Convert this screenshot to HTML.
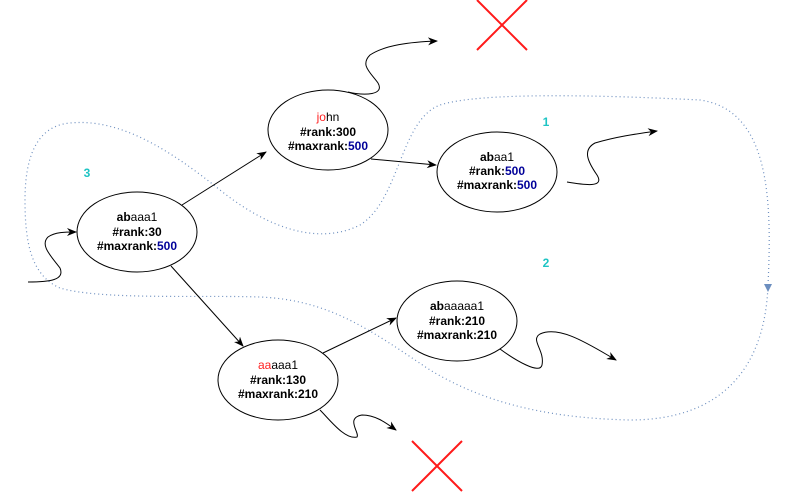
<!DOCTYPE html>
<html><head><meta charset="utf-8"><style>
html,body{margin:0;padding:0;background:#fff;}
svg{display:block;}
text{font-family:"Liberation Sans",Arial,sans-serif;font-size:12px;font-weight:bold;text-anchor:middle;fill:#000;}
.b{fill:#000099}.r{fill:#ff2222}.n{font-weight:normal}
.t{fill:#1ec4c4;font-size:12px}
</style></head><body>
<svg width="789" height="494" viewBox="0 0 789 494">
<defs>
<marker id="a" markerWidth="10" markerHeight="10" refX="9" refY="5" orient="auto" markerUnits="userSpaceOnUse"><path d="M0,1 L10,5 L0,9 L3,5 Z" fill="#000"/></marker>
<marker id="d" markerWidth="10" markerHeight="10" refX="5" refY="9" orient="0" markerUnits="userSpaceOnUse"><path d="M1,1 L9,1 L5,10 Z" fill="#6c8ebf"/></marker>
</defs>
<!-- dotted loop -->
<path d="M768,285 C772,200 770,110 700,100 C600,95 480,92 440,105 C400,120 400,200 360,225 C320,245 270,230 220,190 C170,150 120,118 70,123 C35,126 25,160 25,200 C25,240 30,275 60,288 C100,300 200,295 260,297 C330,300 370,330 430,370 C480,400 540,418 630,420 C720,420 765,370 768,285" fill="none" stroke="#6c8ebf" stroke-width="1.2" stroke-dasharray="1,3"/>
<path d="M764,284 L772,284 L768,292 Z" fill="#6c8ebf"/>
<!-- ellipses -->
<ellipse cx="137" cy="232" rx="60" ry="40" fill="#fff" stroke="#000"/>
<ellipse cx="328" cy="130" rx="60" ry="40" fill="#fff" stroke="#000"/>
<ellipse cx="497" cy="172" rx="60" ry="40" fill="#fff" stroke="#000"/>
<ellipse cx="457" cy="321" rx="60" ry="40" fill="#fff" stroke="#000"/>
<ellipse cx="278" cy="380" rx="60" ry="40" fill="#fff" stroke="#000"/>
<!-- edges -->
<path d="M182,205 L266,152" stroke="#000" fill="none" marker-end="url(#a)"/>
<path d="M371,159 L436,165" stroke="#000" fill="none" marker-end="url(#a)"/>
<path d="M171,266 L243,346" stroke="#000" fill="none" marker-end="url(#a)"/>
<path d="M323,353 L396,318" stroke="#000" fill="none" marker-end="url(#a)"/>
<!-- squiggles -->
<path d="M28,282 C50,282 65,280 60,268 C50,255 40,245 48,237 C55,232 65,232 76,232" stroke="#000" fill="none" marker-end="url(#a)"/>
<path d="M348,92 C365,96 385,95 378,83 C370,72 360,65 370,55 C385,45 410,42 437,41" stroke="#000" fill="none" marker-end="url(#a)"/>
<path d="M567,182 C585,185 605,188 597,175 C588,162 582,150 595,143 C615,137 635,134 657,131" stroke="#000" fill="none" marker-end="url(#a)"/>
<path d="M500,349 C515,360 540,375 542,365 C545,350 530,340 540,334 C560,325 590,345 616,360" stroke="#000" fill="none" marker-end="url(#a)"/>
<path d="M320,410 C330,420 345,440 357,437 C360,433 345,418 362,415 C375,415 385,422 396,430" stroke="#000" fill="none" marker-end="url(#a)"/>
<!-- red X -->
<path d="M477,0 L527,50 M527,0 L477,50" stroke="#ff1a1a" stroke-width="2"/>
<path d="M412,441 L462,491 M462,441 L412,491" stroke="#ff1a1a" stroke-width="2"/>
<!-- labels -->
<text class="t" x="87" y="177">3</text>
<text class="t" x="546" y="126">1</text>
<text class="t" x="546" y="267">2</text>
<text x="137" y="221">ab<tspan class="n">aaa1</tspan></text>
<text x="137" y="236">#rank:30</text>
<text x="137" y="250">#maxrank:<tspan class="b">500</tspan></text>
<text x="328" y="121"><tspan class="r n">jo</tspan><tspan class="n">hn</tspan></text>
<text x="328" y="136">#rank:300</text>
<text x="328" y="150">#maxrank:<tspan class="b">500</tspan></text>
<text x="497" y="161">ab<tspan class="n">aa1</tspan></text>
<text x="497" y="175">#rank:<tspan class="b">500</tspan></text>
<text x="497" y="189">#maxrank:<tspan class="b">500</tspan></text>
<text x="457" y="310">ab<tspan class="n">aaaaa1</tspan></text>
<text x="457" y="325">#rank:210</text>
<text x="457" y="339">#maxrank:210</text>
<text x="278" y="369"><tspan class="r n">aa</tspan><tspan class="n">aaa1</tspan></text>
<text x="278" y="384">#rank:130</text>
<text x="278" y="398">#maxrank:210</text>
</svg>
</body></html>
